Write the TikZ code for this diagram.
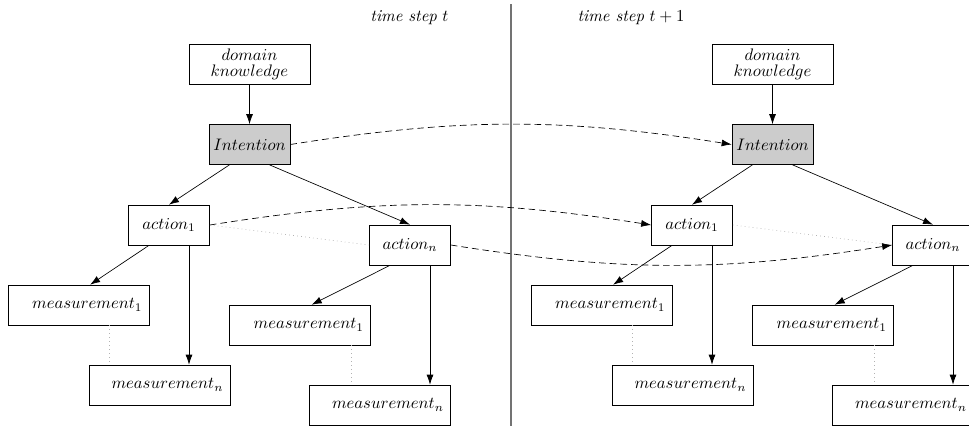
\documentclass[tikz,border=0pt]{standalone}
\usetikzlibrary{arrows.meta}

\tikzstyle{block} = [draw, rectangle, minimum height=24pt, minimum width=48.6pt, inner sep=2pt]
\tikzstyle{intent} = [block, fill=black!20]
\tikzstyle{know} = [block, minimum width=72.6pt, align=center]
\tikzstyle{meas} = [draw, rectangle, minimum height=24pt, text width=76.6pt,
    align=right, inner xsep=4pt]
\tikzstyle{link} = [draw, ->, dash pattern=on 4pt off 2.4pt]
\tikzstyle{faint} = [draw, black!30, dotted]

\begin{document}
\begin{tikzpicture}[x=0.6pt, y=-0.6pt, >={Latex[length=6pt,width=4.2pt]}]
    \clip (0,0) rectangle (969,426);
    % time step t
    \node (stepL) at (409.5,18) {\textit{time step} $t$};
    \node [know] (knowL) at (249.5,64) {$domain$\\[-2.5pt]$knowledge$};
    \node [intent] (intL) at (249.5,144.5) {$Intention$};
    \node [block] (act1L) at (169,225) {$action_1$};
    \node [block] (actnL) at (410,245) {$action_n$};
    \node [meas] (m11L) at (78.5,305) {$measurement_1$};
    \node [meas] (m1nL) at (159.5,385) {$measurement_n$};
    \node [meas] (mn1L) at (300,325) {$measurement_1$};
    \node [meas] (mnnL) at (380,405) {$measurement_n$};

    \draw [->] (knowL) -- (intL);
    \draw [->] ([xshift=-12pt]intL.south) -- (act1L.north);
    \draw [->] ([xshift=12pt]intL.south) -- (actnL.north);
    \draw [->] ([xshift=-12pt]act1L.south) -- ([xshift=7pt]m11L.north);
    \draw [->] ([xshift=12pt]act1L.south) -- ([xshift=12pt]act1L.south |- m1nL.north);
    \draw [->] ([xshift=-12pt]actnL.south) -- ([xshift=7pt]mn1L.north);
    \draw [->] ([xshift=12pt]actnL.south) -- ([xshift=12pt]actnL.south |- mnnL.north);
    \draw [faint] (act1L.east) -- (actnL.west);
    \draw [faint] ([xshift=-24pt]m11L.south east) -- ([xshift=-24pt]m11L.south east |- m1nL.north);
    \draw [faint] ([xshift=-12pt]mn1L.south east) -- ([xshift=-12pt]mn1L.south east |- mnnL.north);

    % divider
    \draw [black!55, line width=1pt] (511,4) -- (511,426);

    % time step t+1
    \node (stepR) at (631,18) {\textit{time step} $t+1$};
    \node [know] (knowR) at (772.5,64) {$domain$\\[-2.5pt]$knowledge$};
    \node [intent] (intR) at (772.5,144.5) {$Intention$};
    \node [block] (act1R) at (692,225) {$action_1$};
    \node [block] (actnR) at (933,245) {$action_n$};
    \node [meas] (m11R) at (601.5,305) {$measurement_1$};
    \node [meas] (m1nR) at (682.5,385) {$measurement_n$};
    \node [meas] (mn1R) at (823,325) {$measurement_1$};
    \node [meas] (mnnR) at (903,405) {$measurement_n$};

    \draw [->] (knowR) -- (intR);
    \draw [->] ([xshift=-12pt]intR.south) -- (act1R.north);
    \draw [->] ([xshift=12pt]intR.south) -- (actnR.north);
    \draw [->] ([xshift=-12pt]act1R.south) -- ([xshift=7pt]m11R.north);
    \draw [->] ([xshift=12pt]act1R.south) -- ([xshift=12pt]act1R.south |- m1nR.north);
    \draw [->] ([xshift=-12pt]actnR.south) -- ([xshift=7pt]mn1R.north);
    \draw [->] ([xshift=12pt]actnR.south) -- ([xshift=12pt]actnR.south |- mnnR.north);
    \draw [faint] (act1R.east) -- (actnR.west);
    \draw [faint] ([xshift=-24pt]m11R.south east) -- ([xshift=-24pt]m11R.south east |- m1nR.north);
    \draw [faint] ([xshift=-12pt]mn1R.south east) -- ([xshift=-12pt]mn1R.south east |- mnnR.north);

    % from t to t+1
    \draw [link] (intL.east) to [bend left=9] (intR.west);
    \draw [link] (act1L.east) to [bend left=9] (act1R.west);
    \draw [link] (actnL.east) to [bend right=9] (actnR.west);
\end{tikzpicture}
\end{document}
